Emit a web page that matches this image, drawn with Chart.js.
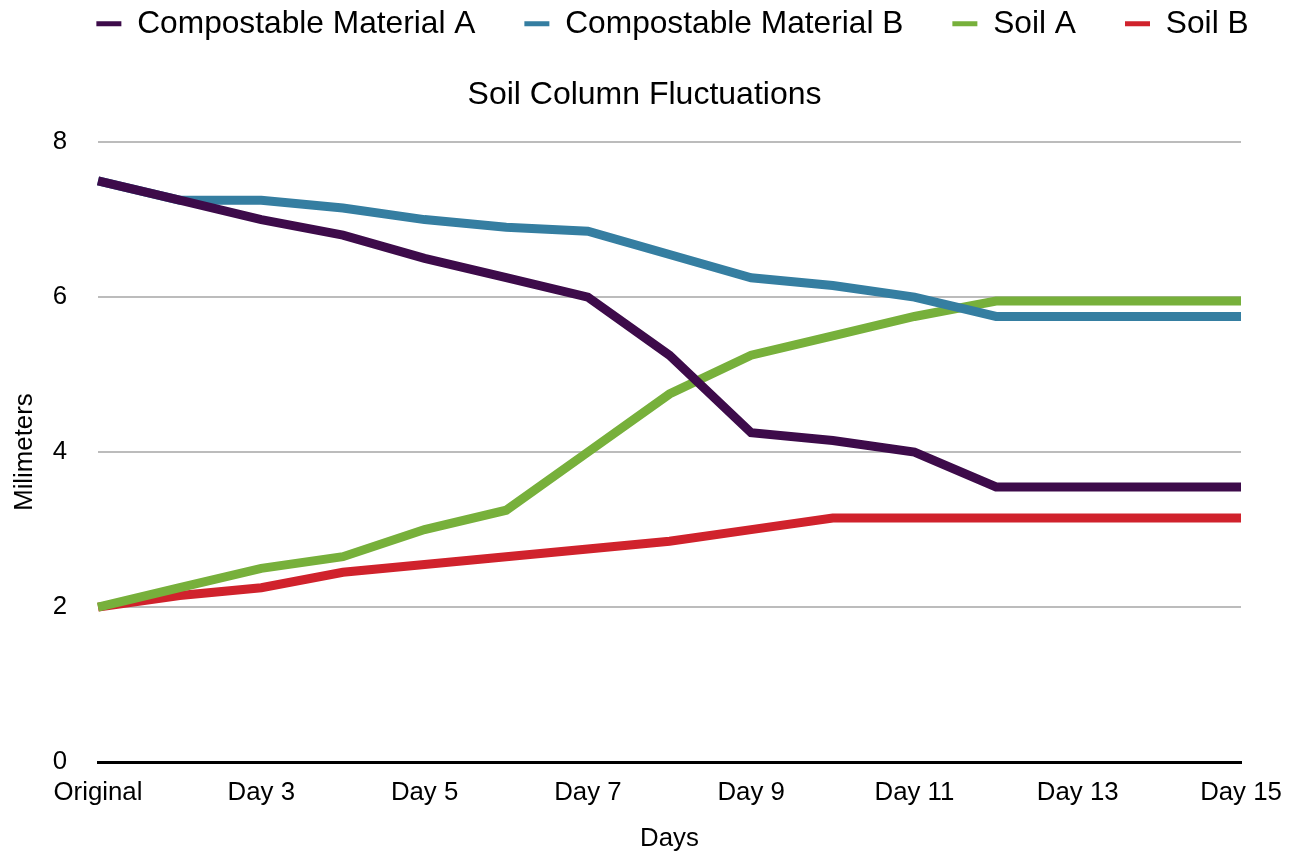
<!DOCTYPE html>
<html>
<head>
<meta charset="utf-8">
<script src="https://cdn.jsdelivr.net/npm/chart.js@4/dist/chart.umd.min.js"></script>
<style>
  html, body { margin: 0; padding: 0; background: #fff; }
  #wrap { width: 1289px; height: 852px; }
</style>
</head>
<body>
<div id="wrap"><canvas id="c" width="1289" height="852"></canvas></div>
<script>
// Soil column measurements (mm) by day
const days = ['Original', 'Day 2', 'Day 3', 'Day 4', 'Day 5', 'Day 6', 'Day 7', 'Day 8',
              'Day 9', 'Day 10', 'Day 11', 'Day 12', 'Day 13', 'Day 14', 'Day 15'];
const compostA = [7.5, 7.25, 7.0, 6.8, 6.5, 6.25, 6.0, 5.25, 4.25, 4.15, 4.0, 3.55, 3.55, 3.55, 3.55];
const compostB = [7.5, 7.25, 7.25, 7.15, 7.0, 6.9, 6.85, 6.55, 6.25, 6.15, 6.0, 5.75, 5.75, 5.75, 5.75];
const soilA    = [2.0, 2.25, 2.5, 2.65, 3.0, 3.25, 4.0, 4.75, 5.25, 5.5, 5.75, 5.95, 5.95, 5.95, 5.95];
const soilB    = [2.0, 2.15, 2.25, 2.45, 2.55, 2.65, 2.75, 2.85, 3.0, 3.15, 3.15, 3.15, 3.15, 3.15, 3.15];
const yTicks   = [0, 2, 4, 6, 8];

const FONT = "'Liberation Sans', Arial, Helvetica, sans-serif";

function series(label, data, color) {
  return {
    label, data,
    borderColor: color,
    backgroundColor: color,
    borderWidth: 9,
    borderCapStyle: 'butt',
    borderJoinStyle: 'miter',
    pointRadius: 0,
    pointHoverRadius: 0,
    tension: 0,
    fill: false
  };
}

// Nudge the legend row to the right of the centred position
const legendShift = {
  id: 'legendShift',
  afterLayout(chart) {
    const lg = chart.legend;
    if (lg) { lg.left += 28; lg.right += 28; }
  }
};

new Chart(document.getElementById('c'), {
  type: 'line',
  data: {
    labels: days,
    datasets: [
      series('Compostable Material A', compostA, '#3d0b4a'),
      series('Compostable Material B', compostB, '#357ea1'),
      series('Soil A', soilA, '#77b03b'),
      series('Soil B', soilB, '#d0222c')
    ]
  },
  plugins: [legendShift],
  options: {
    responsive: false,
    animation: false,
    layout: { padding: { left: 0, right: 0, top: -41, bottom: -2 } },
    plugins: {
      tooltip: { enabled: false },
      legend: {
        position: 'top',
        align: 'center',
        labels: {
          font: { family: FONT, size: 31.7 },
          color: '#000',
          boxWidth: 25,
          boxHeight: 5,
          padding: 49,
          generateLabels(chart) {
            return chart.data.datasets.map((d, i) => ({
              text: d.label,
              fillStyle: d.borderColor,
              strokeStyle: d.borderColor,
              lineWidth: 0,
              hidden: false,
              datasetIndex: i
            }));
          }
        }
      },
      title: {
        display: true,
        weight: 500,
        text: 'Soil Column Fluctuations',
        color: '#000',
        font: { family: FONT, size: 32, weight: 'normal' },
        padding: { top: 26, bottom: 28 }
      }
    },
    scales: {
      x: {
        offset: false,
        afterFit(scale) { scale.paddingRight = 48; },
        grid: { display: false, drawTicks: false },
        border: { display: true, color: '#000', width: 3 },
        ticks: {
          autoSkip: false,
          maxRotation: 0,
          color: '#000',
          padding: 15,
          font: { family: FONT, size: 25.8 },
          callback(v, i) { return i % 2 === 0 ? days[i] : ''; }
        },
        title: {
          display: true,
          text: 'Days',
          color: '#000',
          font: { family: FONT, size: 25.8 },
          padding: { top: 0, bottom: 0 }
        }
      },
      y: {
        min: yTicks[0],
        max: yTicks[yTicks.length - 1],
        afterBuildTicks(scale) { scale.ticks = yTicks.map(v => ({ value: v })); },
        afterFit(scale) { scale.width = 98; },
        grid: {
          drawTicks: false,
          color: ctx => (ctx.tick && ctx.tick.value === 0) ? '#000' : '#bcbcbc',
          lineWidth: ctx => (ctx.tick && ctx.tick.value === 0) ? 3 : 2
        },
        border: { display: false },
        ticks: {
          color: '#000',
          padding: 31,
          font: { family: FONT, size: 25.8 }
        },
        title: {
          display: true,
          text: 'Milimeters',
          color: '#000',
          font: { family: FONT, size: 25.8 },
          padding: { top: 9, bottom: 0 }
        }
      }
    }
  }
});
</script>
</body>
</html>
